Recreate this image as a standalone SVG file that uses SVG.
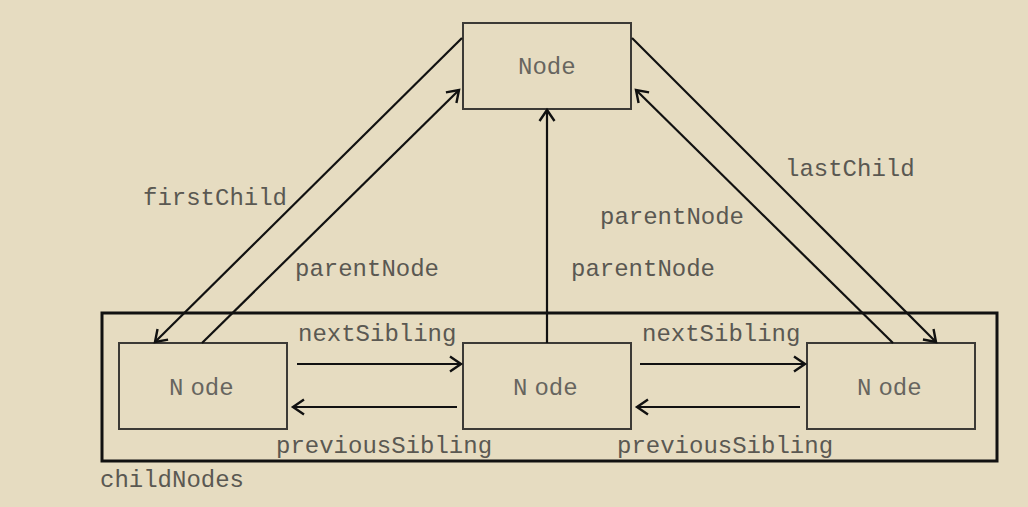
<svg xmlns="http://www.w3.org/2000/svg" width="1028" height="507" viewBox="0 0 1028 507">
<style>
.bg{fill:#e6dcc1}
.node rect{fill:none;stroke:#3c3a36;stroke-width:2}
.node text{font-family:"Liberation Mono","Courier New",monospace;font-size:24px;fill:#67655f}
.lbl{font-family:"Liberation Mono","Courier New",monospace;font-size:24px;fill:#5a5852}
.conn line{stroke:#111;stroke-width:2.2;marker-end:url(#ah)}
</style>
<defs>
<marker id="ah" markerWidth="18" markerHeight="18" refX="13" refY="9" orient="auto" markerUnits="userSpaceOnUse">
<path d="M2,1.5 L13,9 L2,16.5" fill="none" stroke="#111" stroke-width="2.4"/>
</marker>
</defs>
<rect class="bg" x="0" y="0" width="1028" height="507"/>
<g id="childNodes">
<rect x="102" y="313" width="895" height="148" fill="none" stroke="#111" stroke-width="3"/>
<text class="lbl" x="100" y="487">childNodes</text>
</g>
<g id="node-parent" class="node">
<rect x="463" y="23" width="168" height="86"/>
<text x="518" y="74">Node</text>
</g>
<g id="node-first" class="node">
<rect x="119" y="343" width="168" height="86"/>
<text x="169" y="395">N<tspan dx="7">ode</tspan></text>
</g>
<g id="node-middle" class="node">
<rect x="463" y="343" width="168" height="86"/>
<text x="513" y="395">N<tspan dx="7">ode</tspan></text>
</g>
<g id="node-last" class="node">
<rect x="807" y="343" width="168" height="86"/>
<text x="857" y="395">N<tspan dx="7">ode</tspan></text>
</g>
<g id="connectors" class="conn">
<line x1="462" y1="38" x2="155" y2="342"/>
<line x1="202" y1="343" x2="459" y2="90"/>
<line x1="547" y1="343" x2="547" y2="110"/>
<line x1="632" y1="38" x2="936" y2="342"/>
<line x1="893" y1="343" x2="636" y2="90"/>
<line x1="297" y1="364" x2="461" y2="364"/>
<line x1="457" y1="407" x2="293" y2="407"/>
<line x1="640" y1="364" x2="805" y2="364"/>
<line x1="800" y1="407" x2="637" y2="407"/>
</g>
<g id="labels">
<text class="lbl" x="143" y="205">firstChild</text>
<text class="lbl" x="295" y="276">parentNode</text>
<text class="lbl" x="571" y="276">parentNode</text>
<text class="lbl" x="600" y="224">parentNode</text>
<text class="lbl" x="785" y="176">lastChild</text>
<text class="lbl" x="298" y="341">nextSibling</text>
<text class="lbl" x="642" y="341">nextSibling</text>
<text class="lbl" x="276" y="453">previousSibling</text>
<text class="lbl" x="617" y="453">previousSibling</text>
</g>
</svg>
